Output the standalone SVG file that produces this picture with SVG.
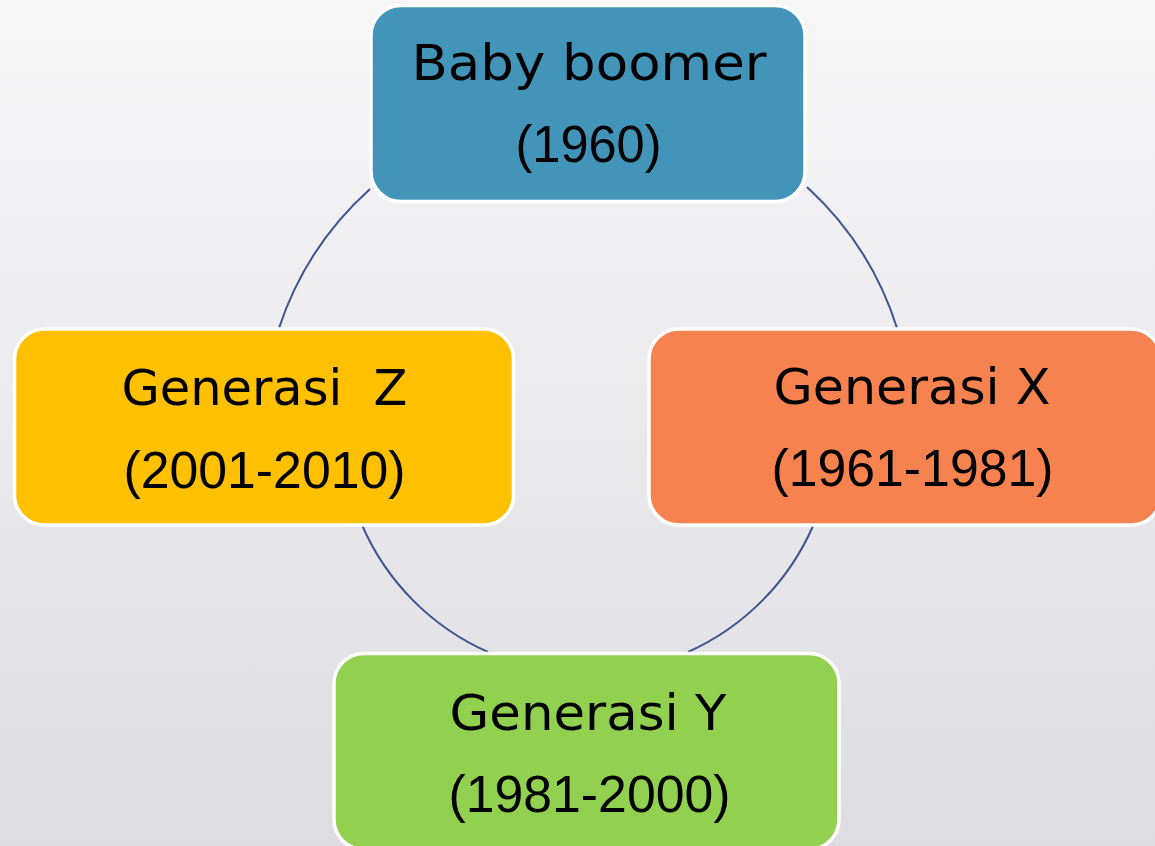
<svg xmlns="http://www.w3.org/2000/svg" width="1155" height="846" viewBox="0 0 1155 846">
<defs>
<linearGradient id="bg" x1="0" y1="0" x2="0" y2="1">
<stop offset="0" stop-color="#f7f7f8"/>
<stop offset="1" stop-color="#dddce1"/>
</linearGradient>
</defs>
<style>
.box{stroke:#ffffff;stroke-width:3.5}
.lbl{font-family:"DejaVu Sans","Liberation Sans",sans-serif;font-size:50px;fill:#000000;text-anchor:middle}
.num{font-family:"Liberation Sans","DejaVu Sans",sans-serif;font-size:51px;fill:#000000;text-anchor:middle}
.arc{fill:none;stroke:#3f5490;stroke-width:2}
</style>
<rect x="0" y="0" width="1155" height="846" fill="url(#bg)"/>
<g id="connectors">
<path class="arc" d="M 370 189 A 324 324 0 0 0 279 328"/>
<path class="arc" d="M 807 187 A 324 324 0 0 1 897 328"/>
<path class="arc" d="M 813 526 A 246 246 0 0 1 688 652"/>
<path class="arc" d="M 488 652 A 246 246 0 0 1 362 525"/>
</g>
<g id="node-baby-boomer">
<rect class="box" x="371" y="5.5" width="434" height="196" rx="30" fill="#4295b8"/>
<text class="lbl" x="589" y="80" textLength="355" lengthAdjust="spacingAndGlyphs">Baby boomer</text>
<text class="num" x="588.5" y="162" textLength="146" lengthAdjust="spacingAndGlyphs">(1960)</text>
</g>
<g id="node-generasi-x">
<rect class="box" x="649" y="329" width="512" height="196" rx="30" fill="#f6834f"/>
<text class="lbl" x="912" y="404" textLength="277" lengthAdjust="spacingAndGlyphs">Generasi X</text>
<text class="num" x="912.5" y="486" textLength="282" lengthAdjust="spacingAndGlyphs">(1961-1981)</text>
</g>
<g id="node-generasi-y">
<rect class="box" x="334" y="653.5" width="505" height="196" rx="30" fill="#92d050"/>
<text class="lbl" x="588" y="729.5" textLength="277" lengthAdjust="spacingAndGlyphs">Generasi Y</text>
<text class="num" x="589.5" y="812" textLength="282" lengthAdjust="spacingAndGlyphs">(1981-2000)</text>
</g>
<g id="node-generasi-z">
<rect class="box" x="14.5" y="329" width="499" height="196" rx="30" fill="#ffc000"/>
<text class="lbl" x="264.5" y="404.5" textLength="286" lengthAdjust="spacingAndGlyphs" xml:space="preserve">Generasi  Z</text>
<text class="num" x="264.5" y="488" textLength="282" lengthAdjust="spacingAndGlyphs">(2001-2010)</text>
</g>
</svg>
